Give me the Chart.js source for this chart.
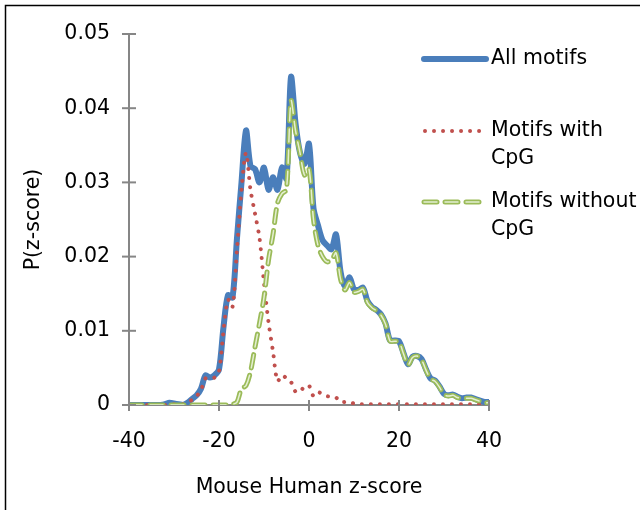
<!DOCTYPE html>
<html>
<head>
<meta charset="utf-8">
<script src="https://cdn.jsdelivr.net/npm/chart.js@4.4.0/dist/chart.umd.min.js"></script>
<style>
  html, body { margin: 0; padding: 0; background: #fff; }
  #wrap { position: relative; width: 640px; height: 510px; }
</style>
</head>
<body>
<div id="wrap"><canvas id="zChart" width="640" height="510"></canvas></div>
<script>
// z-score bins (x)
const zScores = [
  -40, -39, -38, -37, -36, -35, -34, -33, -32, -31,
  -30, -29, -28, -27, -26, -25, -24, -23, -22, -21,
  -20, -19, -18, -17, -16, -15, -14, -13, -12, -11,
  -10, -9, -8, -7, -6, -5, -4, -3, -2, -1,
  0, 1, 2, 3, 4, 5, 6, 7, 8, 9,
  10, 11, 12, 13, 14, 15, 16, 17, 18, 19,
  20, 21, 22, 23, 24, 25, 26, 27, 28, 29,
  30, 31, 32, 33, 34, 35, 36, 37, 38, 39, 40
];

const allMotifs = [
  0, 0, 0, 0, 0, 0, 0, 0, 0.0001, 0.0003,
  0.0002, 0.0001, 0, 0.0003, 0.0008, 0.0013, 0.0022, 0.0040, 0.0037, 0.0040,
  0.0048, 0.0105, 0.0148, 0.0145, 0.0225, 0.0300, 0.0370, 0.0322, 0.0318, 0.0300,
  0.0320, 0.0290, 0.0307, 0.0290, 0.0320, 0.0305, 0.0442, 0.0380, 0.0340, 0.0325,
  0.0352, 0.0265, 0.0242, 0.0222, 0.0215, 0.0210, 0.0230, 0.0180, 0.0160, 0.0172,
  0.0156, 0.0155, 0.0158, 0.0140, 0.0132, 0.0128, 0.0122, 0.0110, 0.0087, 0.0087,
  0.0086, 0.0070, 0.0055, 0.0065, 0.0066, 0.0062, 0.0048, 0.0036, 0.0033, 0.0025,
  0.0015, 0.0013, 0.0014, 0.0011, 0.0009, 0.0010, 0.0010, 0.0008, 0.0006, 0.0004, 0.0004
];

const withCpG = [
  0, 0, 0, 0, 0, 0, 0, 0, 0, 0,
  0.0001, 0.0001, 0.0001, 0.0003, 0.0007, 0.0012, 0.0020, 0.0036, 0.0036, 0.0037,
  0.0045, 0.0100, 0.0142, 0.0132, 0.0210, 0.0290, 0.0340, 0.0290, 0.0258, 0.0225,
  0.0165, 0.0112, 0.0072, 0.0032, 0.0040, 0.0036, 0.0031, 0.0018, 0.0018, 0.0025,
  0.0026, 0.0012, 0.0017, 0.0015, 0.0012, 0.0011, 0.0010, 0.0004, 0.0004, 0.0004,
  0.0002, 0.0001, 0.0001, 0.0001, 0.0001, 0.0001, 0.0001, 0.0001, 0.0001, 0.0001,
  0.0001, 0.0001, 0.0001, 0.0001, 0.0001, 0.0001, 0.0001, 0.0001, 0.0001, 0.0001,
  0.0001, 0.0001, 0.0001, 0.0001, 0.0001, 0.0001, 0.0001, 0.0001, 0.0001, 0.0001, 0.0001
];

const withoutCpG = [
  0, 0, 0, 0, 0, 0, 0, 0, 0, 0,
  0, 0, 0, 0, 0, 0, 0, 0, 0, 0,
  0, 0, 0, 0.0001, 0.0004, 0.0022, 0.0026, 0.0045, 0.0078, 0.0110,
  0.0145, 0.0195, 0.0230, 0.0272, 0.0285, 0.0290, 0.0410, 0.0370, 0.0340, 0.0310,
  0.0318, 0.0250, 0.0215, 0.0200, 0.0193, 0.0195, 0.0205, 0.0170, 0.0155, 0.0165,
  0.0152, 0.0153, 0.0156, 0.0138, 0.0131, 0.0127, 0.0121, 0.0109, 0.0086, 0.0086,
  0.0085, 0.0069, 0.0054, 0.0064, 0.0066, 0.0061, 0.0047, 0.0035, 0.0032, 0.0024,
  0.0014, 0.0012, 0.0013, 0.0010, 0.0009, 0.0009, 0.0009, 0.0007, 0.0005, 0.0003, 0.0003
];

const xTicks = [-40, -20, 0, 20, 40];
const yTicks = [0, 0.01, 0.02, 0.03, 0.04, 0.05];
const legendLabels = [['All motifs'], ['Motifs with', 'CpG'], ['Motifs without', 'CpG']];

const FONT = '"DejaVu Sans", sans-serif';
const FONT_SIZE = 20.5;
const AXIS_GREY = '#868686';
const BLUE = '#4a7ebb';
const RED = '#c0504d';
const GREEN = '#9bbb59';
const GREEN_INNER = '#e4efd2';

const toPoints = (vals) => vals.map((v, i) => ({ x: zScores[i], y: v }));

// frame (left + top edge) and cross-style tick marks
const framePlugin = {
  id: 'frame',
  beforeDraw(chart) {
    const ctx = chart.ctx;
    ctx.save();
    ctx.strokeStyle = '#000';
    ctx.lineWidth = 1.5;
    ctx.beginPath();
    ctx.moveTo(5.5, 510);
    ctx.lineTo(5.5, 5.5);
    ctx.lineTo(640, 5.5);
    ctx.stroke();
    ctx.restore();
  },
  afterDraw(chart) {
    const ctx = chart.ctx;
    const xs = chart.scales.x, ys = chart.scales.y;
    ctx.save();
    ctx.strokeStyle = AXIS_GREY;
    ctx.lineWidth = 2;
    const ax = xs.getPixelForValue(-40);
    const ay = ys.getPixelForValue(0);
    yTicks.forEach((t) => {
      const py = ys.getPixelForValue(t);
      ctx.beginPath();
      ctx.moveTo(ax - 7, py);
      ctx.lineTo(ax + 7, py);
      ctx.stroke();
    });
    xTicks.forEach((t) => {
      const px = xs.getPixelForValue(t);
      ctx.beginPath();
      ctx.moveTo(px, ay - 5);
      ctx.lineTo(px, ay + 6);
      ctx.stroke();
    });
    ctx.restore();
  }
};

// legend at top right, labels wrap onto two lines
const legendPlugin = {
  id: 'sideLegend',
  afterDraw(chart) {
    const ctx = chart.ctx;
    const rows = [59, 131, 202];
    const styles = [
      { color: BLUE, width: 6, dash: [] },
      { color: RED, width: 4, dash: [0.01, 9] },
      { color: GREEN, width: 5, dash: [13, 8] }
    ];
    ctx.save();
    rows.forEach((y, i) => {
      const s = styles[i];
      ctx.strokeStyle = s.color;
      ctx.lineWidth = s.width;
      ctx.lineCap = 'round';
      ctx.setLineDash(s.dash);
      ctx.beginPath();
      ctx.moveTo(i === 1 ? 425 : 424, y);
      ctx.lineTo(486, y);
      ctx.stroke();
      if (i === 2) {
        ctx.strokeStyle = GREEN_INNER;
        ctx.lineWidth = 1.5;
        ctx.beginPath();
        ctx.moveTo(424, y);
        ctx.lineTo(486, y);
        ctx.stroke();
      }
      ctx.setLineDash([]);
      ctx.fillStyle = '#000';
      ctx.font = FONT_SIZE + 'px ' + FONT;
      ctx.textBaseline = 'middle';
      ctx.textAlign = 'left';
      legendLabels[i].forEach((line, j) => {
        ctx.fillText(line, 491, y + j * 28);
      });
    });
    ctx.restore();
  }
};

new Chart(document.getElementById('zChart').getContext('2d'), {
  type: 'line',
  data: {
    datasets: [
      {
        label: 'All motifs',
        data: toPoints(allMotifs),
        borderColor: BLUE,
        borderWidth: 6,
        tension: 0.3,
        pointRadius: 0,
        order: 4
      },
      {
        label: 'Motifs with CpG',
        data: toPoints(withCpG),
        borderColor: RED,
        borderWidth: 4,
        borderDash: [0.01, 9],
        borderCapStyle: 'round',
        tension: 0.3,
        pointRadius: 0,
        order: 3
      },
      {
        label: 'Motifs without CpG',
        data: toPoints(withoutCpG),
        borderColor: GREEN,
        borderWidth: 5,
        borderDash: [13, 8],
        borderCapStyle: 'round',
        tension: 0.3,
        pointRadius: 0,
        order: 2
      },
      {
        label: 'Motifs without CpG (inner)',
        data: toPoints(withoutCpG),
        borderColor: GREEN_INNER,
        borderWidth: 1.5,
        borderDash: [13, 8],
        borderCapStyle: 'round',
        tension: 0.3,
        pointRadius: 0,
        order: 1
      }
    ]
  },
  options: {
    responsive: false,
    animation: false,
    events: [],
    layout: { padding: { left: 0, right: 151, top: 34, bottom: 0 } },
    plugins: { legend: { display: false }, tooltip: { enabled: false } },
    scales: {
      x: {
        type: 'linear',
        min: -40,
        max: 40,
        afterFit: (s) => { s.height = 105; },
        afterBuildTicks: (s) => { s.ticks = xTicks.map((v) => ({ value: v })); },
        grid: { display: false, drawTicks: false },
        border: { display: true, color: AXIS_GREY, width: 2 },
        ticks: { color: '#000', font: { family: FONT, size: FONT_SIZE }, padding: 24, maxRotation: 0 },
        title: {
          display: true,
          text: 'Mouse Human z-score',
          color: '#000',
          font: { family: FONT, size: FONT_SIZE },
          padding: { top: 0, bottom: 10 }
        }
      },
      y: {
        min: 0,
        max: 0.05,
        afterFit: (s) => { s.width = 129; },
        afterBuildTicks: (s) => { s.ticks = yTicks.map((v) => ({ value: v })); },
        grid: { display: false, drawTicks: false },
        border: { display: true, color: AXIS_GREY, width: 2 },
        ticks: {
          color: '#000',
          font: { family: FONT, size: FONT_SIZE },
          padding: 19,
          callback: (v) => (v === 0 ? '0' : v.toFixed(2))
        },
        title: {
          display: true,
          text: 'P(z-score)',
          color: '#000',
          font: { family: FONT, size: FONT_SIZE },
          padding: { top: 21, bottom: 0 }
        }
      }
    }
  },
  plugins: [framePlugin, legendPlugin]
});
</script>
</body>
</html>
